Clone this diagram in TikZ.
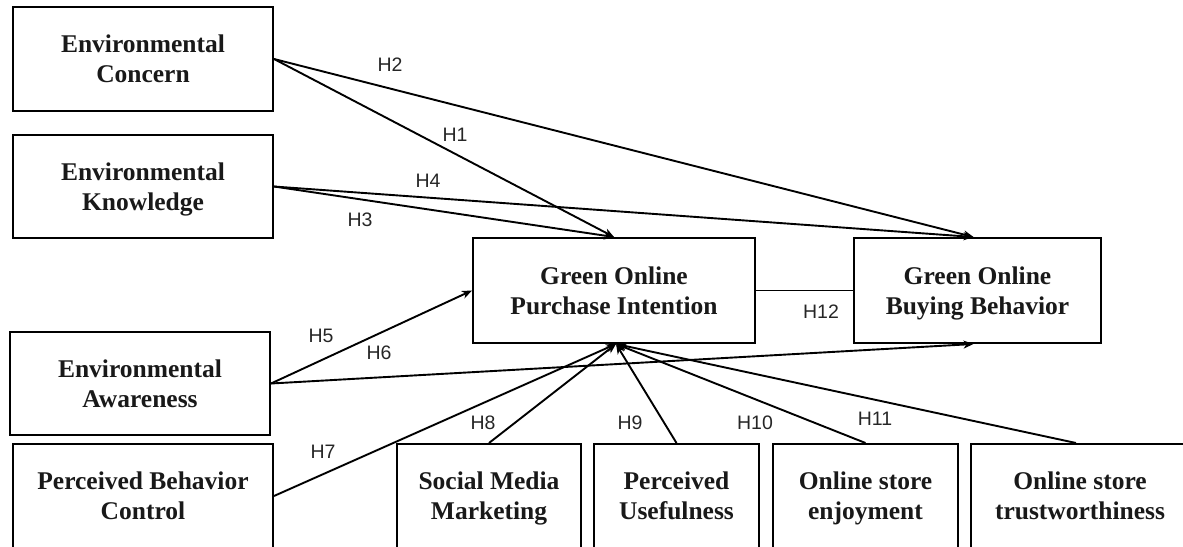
\documentclass[tikz,border=0pt]{standalone}
\usepackage{fontspec}
\setmainfont{Liberation Serif}
\newfontfamily\labfont{Liberation Sans}
\usetikzlibrary{arrows.meta}
\tikzset{
  box/.style={draw, line width=2pt, align=center, inner sep=0pt,
    text height=47pt, text depth=0pt,
    font=\fontsize{25.5}{30}\selectfont\bfseries, text=black!90},
  hlab/.style={font=\labfont\fontsize{19.5}{21}\selectfont, text=black!85, inner sep=0pt},
  conn/.style={line width=1.9pt, -{Stealth[length=10pt,width=8pt,inset=3pt]}},
  plain/.style={line width=1.9pt}
}
\begin{document}
\begin{tikzpicture}[x=1pt,y=-1pt]
\useasboundingbox (0,0) rectangle (1183,546);
\clip (0,0) rectangle (1183,546);
% boxes
\node[box, minimum width=260pt, minimum height=104pt] (ec) at (143,59) {Environmental\\Concern};
\node[box, minimum width=260pt, minimum height=103pt] (ek) at (143,186.5) {Environmental\\Knowledge};
\node[box, minimum width=260pt, minimum height=103pt] (ea) at (140,383.5) {Environmental\\Awareness};
\node[box, minimum width=260pt, minimum height=104pt] (pbc) at (143,496) {Perceived Behavior\\Control};
\node[box, minimum width=282pt, minimum height=105pt] (gopi) at (614,290.5) {Green Online\\Purchase Intention};
\node[box, minimum width=247pt, minimum height=105pt] (gobb) at (977.5,290.5) {Green Online\\Buying Behavior};
\node[box, minimum width=184pt, minimum height=104pt] (sm) at (489,496) {Social Media\\Marketing};
\node[box, minimum width=165pt, minimum height=104pt] (pu) at (676.5,496) {Perceived\\Usefulness};
\node[box, minimum width=185pt, minimum height=104pt] (ose) at (865.5,496) {Online store\\enjoyment};
\node[box, minimum width=218pt, minimum height=104pt] (ost) at (1080,496) {Online store\\trustworthiness};
% connectors
\draw[conn] (ec.east) -- (gopi.north);
\draw[conn] (ec.east) -- ([xshift=-4pt]gobb.north);
\draw[conn] (ek.east) -- (gopi.north);
\draw[conn] (ek.east) -- ([xshift=-4pt]gobb.north);
\draw[conn] (ea.east) -- (gopi.west);
\draw[conn] (ea.east) -- ([xshift=-4pt]gobb.south);
\draw[conn] (pbc.east) -- ([xshift=2pt]gopi.south);
\draw[conn] (sm.north) -- ([xshift=2pt]gopi.south);
\draw[conn] (pu.north) -- ([xshift=2pt]gopi.south);
\draw[conn] (ose.north) -- ([xshift=2pt]gopi.south);
\draw[conn] ([xshift=-4pt]ost.north) -- ([xshift=2pt]gopi.south);
\draw[plain] (gopi.east) -- (gobb.west);
% labels
\node[hlab] (h1) at (455,135) {H1};
\node[hlab] (h2) at (390,65) {H2};
\node[hlab] (h3) at (360,220) {H3};
\node[hlab] (h4) at (428,181) {H4};
\node[hlab] (h5) at (321,336) {H5};
\node[hlab] (h6) at (379,353) {H6};
\node[hlab] (h7) at (323,452) {H7};
\node[hlab] (h8) at (483,423) {H8};
\node[hlab] (h9) at (630,423) {H9};
\node[hlab] (h10) at (755,423) {H10};
\node[hlab] (h11) at (875,419) {H11};
\node[hlab] (h12) at (821,312) {H12};
\end{tikzpicture}
\end{document}
